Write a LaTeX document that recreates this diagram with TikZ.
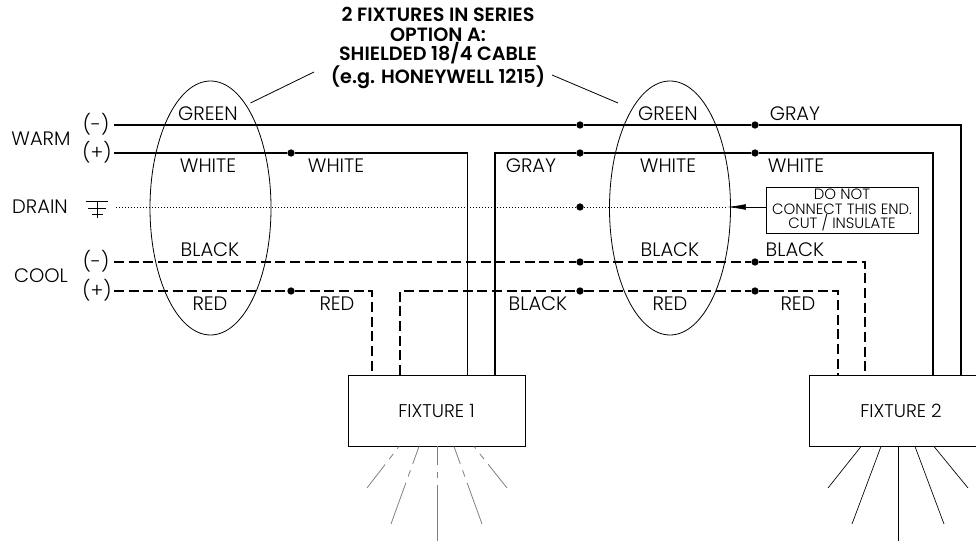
\documentclass[tikz,border=0pt]{standalone}
\usepackage{fontspec}
\setmainfont[UprightFont=* Light, BoldFont=* SemiBold]{Poppins}
\usetikzlibrary{arrows.meta}
\usetikzlibrary{shapes.geometric}
\tikzset{%
  >={Latex[width=1.5mm,length=5mm]},
  % Specifications for style of nodes:
      wirelabel/.style = {inner sep=0pt, font=\fontsize{14.6}{16}\selectfont},
        fixture/.style = {rectangle, draw=black, line width=0.6pt, minimum width=132.75pt,
                          minimum height=53.25pt, inner sep=0pt,
                          font=\fontsize{13.8}{16}\selectfont},
           note/.style = {rectangle, draw=black, line width=0.5pt, minimum width=114pt,
                          minimum height=34.5pt, inner sep=0pt, align=center,
                          font=\fontsize{11.2}{11.2}\selectfont},
          title/.style = {inner sep=0pt, align=center,
                          font=\fontsize{14.4}{14.5}\selectfont\bfseries},
     solid wire/.style = {line width=1.3pt},
    dashed wire/.style = {line width=0.8pt, dash pattern=on 7.5pt off 3.5pt},
     drain wire/.style = {line width=0.6pt, dash pattern=on 1pt off 1.25pt},
          cable/.style = {line width=0.6pt},
           ring/.style = {cable, draw, ellipse, minimum width=90.75pt, minimum height=190.5pt, inner sep=0pt},
        spliced/.style = {circle, fill=black, inner sep=0pt, minimum size=5.5pt},
     dimmed ray/.style = {gray, line width=0.6pt, dash pattern=on 45pt off 5pt on 5pt off 5pt},
            ray/.style = {line width=0.5pt},
}

\begin{document}
\begin{tikzpicture}[x=0.75pt, y=-0.75pt]
  \useasboundingbox (0,0) rectangle (976,541);

  % Specification of nodes (position, etc.)
  \node (fixtureOne) [fixture] at (436.5,410.5) {FIXTURE 1\hspace{5pt}};
  \node (fixtureTwo) [fixture, minimum width=138pt] at (901,410.5) {FIXTURE 2};
  \node (noteEnd) [note] at (842,210) {DO NOT\\CONNECT THIS END.\\CUT / INSULATE};
  \node (titleNote) [title] at (438,48) {2 FIXTURES IN SERIES\\OPTION A:\\SHIELDED 18/4 CABLE\\(e.g. HONEYWELL 1215)};

  \node (warmLbl)  [wirelabel] at (41,139) {WARM};
  \node (drainLbl) [wirelabel] at (40,207) {DRAIN};
  \node (coolLbl)  [wirelabel] at (41,276) {COOL};
  \node (warmNeg)  [wirelabel] at (96,124) {(-)};
  \node (warmPos)  [wirelabel] at (97,152) {(+)};
  \node (coolNeg)  [wirelabel] at (96,261) {(-)};
  \node (coolPos)  [wirelabel] at (97,290) {(+)};

  \node (lblA) [wirelabel] at (208,114) {GREEN};
  \node (lblB) [wirelabel] at (208,166) {WHITE};
  \node (lblC) [wirelabel] at (210,250) {BLACK};
  \node (lblD) [wirelabel] at (210,304) {RED};
  \node (lblE) [wirelabel] at (336,166) {WHITE};
  \node (lblF) [wirelabel] at (337,304) {RED};
  \node (lblG) [wirelabel] at (531,166) {GRAY};
  \node (lblH) [wirelabel] at (538,304) {BLACK};
  \node (lblI) [wirelabel] at (668,114) {GREEN};
  \node (lblJ) [wirelabel] at (668,166) {WHITE};
  \node (lblK) [wirelabel] at (670,250) {BLACK};
  \node (lblL) [wirelabel] at (670,304) {RED};
  \node (lblM) [wirelabel] at (795,114) {GRAY};
  \node (lblN) [wirelabel] at (796,166) {WHITE};
  \node (lblO) [wirelabel] at (795,250) {BLACK};
  \node (lblP) [wirelabel] at (798,304) {RED};

  % Splices
  \node (spliceA) [spliced] at (291,153) {};
  \node (spliceK) [spliced] at (291,291) {};
  \node (spliceB) [spliced] at (580,125) {};
  \node (spliceC) [spliced] at (580,153) {};
  \node (spliceD) [spliced] at (580,207) {};
  \node (spliceE) [spliced] at (580,262) {};
  \node (spliceF) [spliced] at (580,291) {};
  \node (spliceG) [spliced] at (755,125) {};
  \node (spliceH) [spliced] at (755,153) {};
  \node (spliceI) [spliced] at (755,262) {};
  \node (spliceJ) [spliced] at (755,291) {};

  % Free ends of the wires
  \coordinate (warmNegEnd) at (114,125);
  \coordinate (warmPosEnd) at (114,153);
  \coordinate (drainEnd)   at (116,207);
  \coordinate (coolNegEnd) at (114,262);
  \coordinate (coolPosEnd) at (114,291);
  \coordinate (noteTip)    at (727,207);

  % Specification of lines between nodes specified above
  \draw[solid wire] (warmNegEnd) -- (spliceB) -- (spliceG) -| (961,375);
  \draw[solid wire] (warmPosEnd) -- (spliceA) -| (467.5,375);
  \draw[solid wire] (495,375) |- (spliceC) -- (spliceH) -| (933,375);
  \draw[dashed wire] (coolNegEnd) -- (spliceE) -- (spliceI) -| (865,375);
  \draw[dashed wire] (coolPosEnd) -- (spliceK) -| (372,375);
  \draw[dashed wire] (400,375) |- (spliceF) -- (spliceJ) -| (838,375);
  \draw[drain wire] (drainEnd) -- (spliceD) -- (noteTip);
  \draw[->, line width=0.5pt] (noteEnd.west |- noteTip) -- (noteTip);

  % Drain symbol
  \draw[line width=0.6pt] (86,201.5) -- (108,201.5) (88,208) -- (106,208) (92,214) -- (103,214)
    (97,201.5) -- (97,218);

  % Cable rings and their leaders
  \node (ringOne) [ring] at (210.5,208) {};
  \node (ringTwo) [ring] at (670,208) {};
  \draw[cable] (250.5,103) -- (314,72);
  \draw[cable] (552,75) -- (618,103);

  % Light from the fixtures
  \foreach \a/\b/\c/\p in {399/367/488/43, 419/391/524/31, 437/437/541/31, 454/482/524/31, 474/507/488/43} {
    \draw[dimmed ray, dash phase=\p pt] (\a,446.5) -- (\b,\c);
  }
  \foreach \a/\b/\c in {861/828/488, 881/852/524, 898/898/541, 915/944/524, 934/968/488} {
    \draw[ray] (\a,446.5) -- (\b,\c);
  }
\end{tikzpicture}
\end{document}
